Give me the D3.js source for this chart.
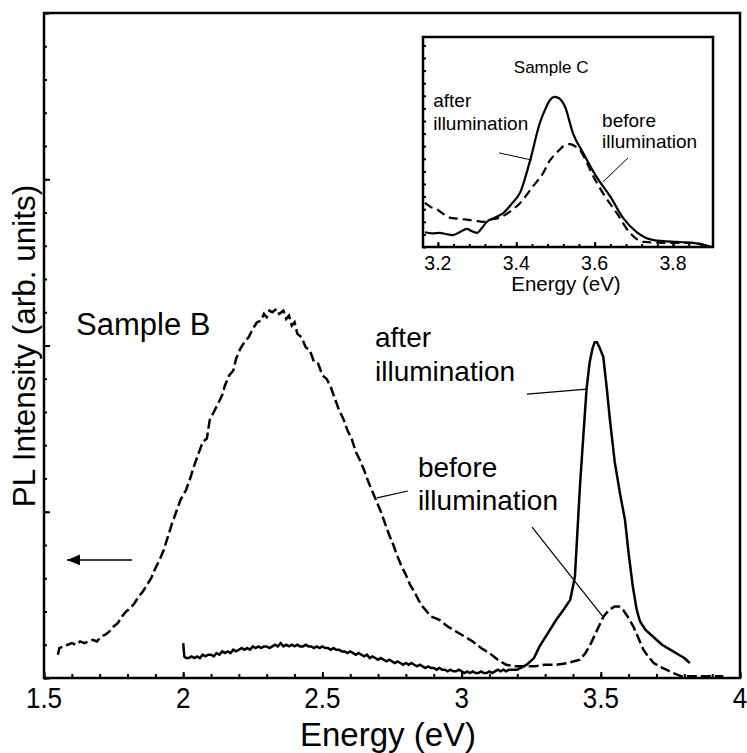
<!DOCTYPE html>
<html>
<head>
<meta charset="utf-8">
<script src="https://cdn.jsdelivr.net/npm/d3@7"></script>
<style>
  body { margin: 0; background: #fff; }
  text { font-family: "Liberation Sans", Arial, sans-serif; fill: #000; }
</style>
</head>
<body>
<div id="chart"></div>
<script>
// ---- main panel: Sample B, [energy eV, PL intensity arb.]
const beforeB = [
  [1.550,0.14],[1.555,0.18],[1.570,0.19],[1.585,0.20],[1.600,0.21],[1.615,0.20],[1.630,0.22],[1.645,0.21],
  [1.660,0.22],[1.675,0.23],[1.690,0.22],[1.705,0.25],[1.720,0.26],[1.735,0.28],[1.750,0.31],[1.765,0.33],
  [1.780,0.37],[1.795,0.40],[1.810,0.42],[1.825,0.45],[1.840,0.49],[1.855,0.52],[1.870,0.56],[1.885,0.60],
  [1.900,0.66],[1.915,0.71],[1.930,0.77],[1.945,0.85],[1.960,0.93],[1.975,1.00],[1.990,1.07],[2.000,1.10],
  [2.010,1.13],[2.025,1.20],[2.040,1.28],[2.055,1.35],[2.070,1.42],[2.085,1.44],[2.095,1.55],[2.110,1.60],
  [2.125,1.65],[2.140,1.70],[2.150,1.76],[2.165,1.82],[2.180,1.85],[2.190,1.92],[2.205,1.98],[2.220,2.02],
  [2.235,2.05],[2.250,2.10],[2.265,2.14],[2.280,2.15],[2.290,2.19],[2.300,2.17],[2.310,2.21],[2.320,2.20],
  [2.335,2.22],[2.345,2.19],[2.360,2.21],[2.370,2.16],[2.380,2.18],[2.390,2.12],[2.400,2.14],[2.410,2.07],
  [2.425,2.05],[2.440,1.99],[2.455,1.97],[2.470,1.90],[2.485,1.89],[2.500,1.82],[2.515,1.80],[2.530,1.75],
  [2.545,1.68],[2.560,1.61],[2.575,1.56],[2.590,1.49],[2.605,1.44],[2.620,1.36],[2.635,1.31],[2.650,1.25],
  [2.665,1.18],[2.680,1.12],[2.695,1.06],[2.710,1.00],[2.725,0.93],[2.740,0.86],[2.755,0.80],[2.770,0.73],
  [2.785,0.67],[2.800,0.62],[2.815,0.56],[2.830,0.52],[2.845,0.47],[2.860,0.43],[2.875,0.40],[2.890,0.37],
  [2.905,0.36],[2.920,0.35],[2.950,0.31],[2.980,0.28],[3.010,0.25],[3.040,0.22],[3.070,0.18],[3.100,0.15],
  [3.130,0.11],[3.160,0.08],[3.190,0.07],[3.220,0.07],[3.260,0.07],[3.300,0.08],[3.340,0.08],[3.380,0.09],
  [3.425,0.11],[3.445,0.15],[3.465,0.21],[3.490,0.30],[3.510,0.37],[3.530,0.41],[3.550,0.43],[3.565,0.43],
  [3.580,0.41],[3.600,0.36],[3.617,0.31],[3.635,0.24],[3.653,0.17],[3.670,0.13],[3.690,0.09],[3.710,0.07],
  [3.735,0.05],[3.760,0.03],[3.790,0.01],[3.850,0.01],[3.900,0.01],[3.940,0.01]
];
const afterB = [
  [2.000,0.21],[2.004,0.13],[2.010,0.12],[2.020,0.12],[2.030,0.13],[2.040,0.12],[2.050,0.13],[2.060,0.12],
  [2.070,0.14],[2.080,0.13],[2.090,0.14],[2.100,0.14],[2.110,0.13],[2.120,0.15],[2.130,0.14],[2.140,0.16],
  [2.150,0.15],[2.160,0.16],[2.170,0.15],[2.180,0.17],[2.190,0.16],[2.200,0.17],[2.210,0.18],[2.220,0.17],
  [2.230,0.18],[2.240,0.17],[2.250,0.19],[2.260,0.18],[2.270,0.19],[2.280,0.18],[2.290,0.19],[2.300,0.19],
  [2.310,0.18],[2.320,0.19],[2.330,0.20],[2.340,0.19],[2.350,0.21],[2.360,0.19],[2.370,0.20],[2.380,0.19],
  [2.390,0.20],[2.400,0.19],[2.410,0.20],[2.420,0.19],[2.430,0.19],[2.440,0.20],[2.450,0.19],[2.460,0.19],
  [2.470,0.18],[2.480,0.19],[2.490,0.18],[2.500,0.19],[2.510,0.18],[2.520,0.18],[2.530,0.17],[2.540,0.18],
  [2.550,0.17],[2.560,0.17],[2.570,0.16],[2.580,0.16],[2.590,0.15],[2.600,0.16],[2.610,0.15],[2.620,0.14],
  [2.630,0.15],[2.640,0.14],[2.650,0.13],[2.660,0.14],[2.670,0.12],[2.680,0.13],[2.690,0.12],[2.700,0.11],
  [2.710,0.12],[2.720,0.11],[2.730,0.10],[2.740,0.11],[2.750,0.10],[2.760,0.09],[2.770,0.10],[2.780,0.09],
  [2.790,0.08],[2.800,0.09],[2.810,0.08],[2.820,0.09],[2.830,0.08],[2.840,0.07],[2.850,0.08],[2.860,0.07],
  [2.870,0.06],[2.880,0.07],[2.890,0.06],[2.900,0.06],[2.910,0.05],[2.920,0.06],[2.930,0.05],[2.940,0.05],
  [2.950,0.04],[2.960,0.05],[2.970,0.04],[2.980,0.04],[2.990,0.05],[3.000,0.04],[3.010,0.03],[3.020,0.04],
  [3.030,0.03],[3.040,0.04],[3.050,0.03],[3.060,0.03],[3.070,0.04],[3.080,0.03],[3.090,0.03],[3.100,0.04],
  [3.110,0.03],[3.120,0.04],[3.130,0.05],[3.140,0.04],[3.150,0.05],[3.160,0.04],[3.170,0.05],[3.180,0.05],
  [3.200,0.05],[3.234,0.08],[3.260,0.12],[3.280,0.19],[3.310,0.27],[3.340,0.35],[3.370,0.42],[3.390,0.47],
  [3.400,0.55],[3.407,0.61],[3.415,0.85],[3.425,1.15],[3.437,1.45],[3.449,1.74],[3.460,1.90],[3.470,1.98],
  [3.478,2.02],[3.486,2.02],[3.495,1.99],[3.509,1.93],[3.521,1.75],[3.533,1.55],[3.550,1.30],[3.570,1.10],
  [3.587,0.95],[3.600,0.75],[3.615,0.55],[3.629,0.41],[3.641,0.34],[3.660,0.29],[3.680,0.26],[3.700,0.23],
  [3.720,0.20],[3.740,0.18],[3.760,0.16],[3.780,0.14],[3.800,0.12],[3.820,0.09]
];
const mainXTicks = [1.5, 2, 2.5, 3, 3.5, 4];
const mainXLabels = ["1.5", "2", "2.5", "3", "3.5", "4"];

// ---- inset: Sample C, [energy eV, normalised intensity]
const beforeC = [
  [3.167,0.21],[3.182,0.19],[3.197,0.18],[3.212,0.16],[3.230,0.14],[3.250,0.135],[3.274,0.13],[3.295,0.125],
  [3.315,0.12],[3.335,0.13],[3.358,0.14],[3.385,0.17],[3.410,0.21],[3.443,0.29],[3.468,0.35],[3.485,0.41],
  [3.504,0.45],[3.520,0.48],[3.537,0.49],[3.550,0.48],[3.563,0.46],[3.578,0.41],[3.593,0.35],[3.620,0.26],
  [3.657,0.16],[3.690,0.067],[3.724,0.024],[3.775,0.02],[3.850,0.02],[3.895,0.0]
];
const afterC = [
  [3.167,0.07],[3.185,0.065],[3.205,0.067],[3.220,0.062],[3.238,0.057],[3.255,0.07],[3.274,0.086],[3.287,0.075],
  [3.300,0.067],[3.312,0.09],[3.325,0.12],[3.345,0.14],[3.366,0.16],[3.390,0.21],[3.410,0.26],[3.435,0.41],
  [3.460,0.59],[3.475,0.66],[3.486,0.70],[3.497,0.715],[3.508,0.71],[3.524,0.67],[3.545,0.54],[3.570,0.45],
  [3.606,0.33],[3.640,0.24],[3.672,0.14],[3.708,0.07],[3.750,0.033],[3.810,0.024],[3.850,0.02],[3.900,0.0]
];
const insetXTicks = [3.2, 3.4, 3.6, 3.8];
const insetXLabels = ["3.2", "3.4", "3.6", "3.8"];

const width = 747, height = 753;
const svg = d3.select("#chart").append("svg")
  .attr("width", width).attr("height", height);

// ---------------- main panel ----------------
const x = d3.scaleLinear().domain([1.5, 4]).range([44, 740]);
const y = d3.scaleLinear().domain([0, 4]).range([678, 13]);

const main = svg.append("g");

// minor / major ticks, pointing inside
main.append("g")
  .attr("transform", `translate(0,${y(0)})`)
  .call(d3.axisBottom(x).tickValues(d3.range(1.5, 4.001, 0.1)).tickSize(-4).tickFormat(""))
  .call(g => g.select(".domain").remove());
main.append("g")
  .attr("transform", `translate(0,${y(0)})`)
  .call(d3.axisBottom(x).tickValues(mainXTicks).tickSize(-6).tickFormat(""))
  .call(g => g.select(".domain").remove());
main.append("g")
  .attr("transform", `translate(${x(1.5)},0)`)
  .call(d3.axisLeft(y).tickValues(d3.range(0, 4.001, 0.2)).tickSize(-3).tickFormat(""))
  .call(g => g.select(".domain").remove());
main.append("g")
  .attr("transform", `translate(${x(1.5)},0)`)
  .call(d3.axisLeft(y).tickValues([0, 1, 2, 3, 4]).tickSize(-6).tickFormat(""))
  .call(g => g.select(".domain").remove());
main.selectAll(".tick line").attr("stroke-width", 2);

// tick labels are a little taller than wide in the original
main.selectAll(".xlbl").data(mainXTicks).join("text")
  .attr("transform", d => `translate(${x(d)},708) scale(1,1.15)`)
  .attr("text-anchor", "middle").attr("font-size", 26)
  .text((d, i) => mainXLabels[i]);

main.append("rect")
  .attr("x", x(1.5)).attr("y", y(4))
  .attr("width", x(4) - x(1.5)).attr("height", y(0) - y(4))
  .attr("fill", "none").attr("stroke", "#000").attr("stroke-width", 2.5);

const line = d3.line().x(d => x(d[0])).y(d => y(d[1]));
main.append("path").datum(beforeB).attr("d", line)
  .attr("fill", "none").attr("stroke", "#000").attr("stroke-width", 2.5)
  .attr("stroke-dasharray", "10,4");
main.append("path").datum(afterB).attr("d", line)
  .attr("fill", "none").attr("stroke", "#000").attr("stroke-width", 2.5);

// annotations in data units
const mainLeaders = [
  [[3.235, 1.708], [3.450, 1.738]],
  [[3.253, 0.908], [3.508, 0.367]],
  [[2.696, 1.083], [2.807, 1.125]]
];
main.selectAll(".leader").data(mainLeaders).join("line")
  .attr("x1", d => x(d[0][0])).attr("y1", d => y(d[0][1]))
  .attr("x2", d => x(d[1][0])).attr("y2", d => y(d[1][1]))
  .attr("stroke", "#000").attr("stroke-width", 1.2);

const mainLabels = [
  { t: "Sample B", e: 1.615, v: 2.063, s: 31 },
  { t: "after", e: 2.689, v: 1.991, s: 28 },
  { t: "illumination", e: 2.689, v: 1.786, s: 28 },
  { t: "before", e: 2.843, v: 1.209, s: 28 },
  { t: "illumination", e: 2.843, v: 1.011, s: 28 }
];
main.selectAll(".lbl").data(mainLabels).join("text")
  .attr("x", d => x(d.e)).attr("y", d => y(d.v))
  .attr("font-size", d => d.s).text(d => d.t);

// arrow pointing to the left axis
svg.append("defs").append("marker")
  .attr("id", "head").attr("viewBox", "0 0 12 10")
  .attr("refX", 12).attr("refY", 5)
  .attr("markerWidth", 13).attr("markerHeight", 11)
  .attr("markerUnits", "userSpaceOnUse").attr("orient", "auto")
  .append("path").attr("d", "M0,0L12,5L0,10Z").attr("fill", "#000");
main.append("line")
  .attr("x1", x(1.816)).attr("y1", y(0.710))
  .attr("x2", x(1.583)).attr("y2", y(0.710))
  .attr("stroke", "#000").attr("stroke-width", 1.5)
  .attr("marker-end", "url(#head)");

main.append("text")
  .attr("x", (x(1.5) + x(4)) / 2 - 4).attr("y", 746)
  .attr("text-anchor", "middle").attr("font-size", 33)
  .text("Energy (eV)");
main.append("text")
  .attr("transform", `translate(35,346) rotate(-90)`)
  .attr("text-anchor", "middle").attr("font-size", 31.5)
  .text("PL Intensity (arb. units)");

// ---------------- inset ----------------
const xi = d3.scaleLinear().domain([3.162, 3.902]).range([423, 713]);
const yi = d3.scaleLinear().domain([0, 1]).range([247, 37]);
const inset = svg.append("g");

inset.append("g")
  .attr("transform", `translate(0,${yi(0)})`)
  .call(d3.axisBottom(xi).tickValues(d3.range(3.2, 3.9, 0.04)).tickSize(-3).tickFormat(""))
  .call(g => g.select(".domain").remove());
inset.append("g")
  .attr("transform", `translate(0,${yi(0)})`)
  .call(d3.axisBottom(xi).tickValues(insetXTicks).tickSize(-5).tickFormat(""))
  .call(g => g.select(".domain").remove());
inset.append("g")
  .attr("transform", `translate(${xi(3.162)},0)`)
  .call(d3.axisLeft(yi).tickValues(d3.range(0, 1.001, 0.06)).tickSize(-3).tickFormat(""))
  .call(g => g.select(".domain").remove());
inset.selectAll(".tick line").attr("stroke-width", 2);

inset.selectAll(".xlbl").data(insetXTicks).join("text")
  .attr("transform", d => `translate(${xi(d)},270) scale(1,1.08)`)
  .attr("text-anchor", "middle").attr("font-size", 19.5)
  .text((d, i) => insetXLabels[i]);

inset.append("rect")
  .attr("x", xi(3.162)).attr("y", yi(1))
  .attr("width", xi(3.902) - xi(3.162)).attr("height", yi(0) - yi(1))
  .attr("fill", "none").attr("stroke", "#000").attr("stroke-width", 2.5);

const lineI = d3.line().curve(d3.curveMonotoneX).x(d => xi(d[0])).y(d => yi(d[1]));
inset.append("path").datum(beforeC).attr("d", lineI)
  .attr("fill", "none").attr("stroke", "#000").attr("stroke-width", 2.2)
  .attr("stroke-dasharray", "9,5");
inset.append("path").datum(afterC).attr("d", lineI)
  .attr("fill", "none").attr("stroke", "#000").attr("stroke-width", 2.2);

const insetLeaders = [
  [[3.356, 0.448], [3.440, 0.414]],
  [[3.621, 0.310], [3.685, 0.424]]
];
inset.selectAll(".leader").data(insetLeaders).join("line")
  .attr("x1", d => xi(d[0][0])).attr("y1", d => yi(d[0][1]))
  .attr("x2", d => xi(d[1][0])).attr("y2", d => yi(d[1][1]))
  .attr("stroke", "#000").attr("stroke-width", 1);

const insetLabels = [
  { t: "Sample C", e: 3.489, v: 0.829, s: 17, a: "middle" },
  { t: "after", e: 3.188, v: 0.667, s: 19, a: "start" },
  { t: "illumination", e: 3.188, v: 0.557, s: 19, a: "start" },
  { t: "before", e: 3.619, v: 0.571, s: 19, a: "start" },
  { t: "illumination", e: 3.619, v: 0.471, s: 19, a: "start" }
];
inset.selectAll(".lbl").data(insetLabels).join("text")
  .attr("x", d => xi(d.e)).attr("y", d => yi(d.v))
  .attr("text-anchor", d => d.a)
  .attr("font-size", d => d.s).text(d => d.t);

inset.append("text")
  .attr("x", 566).attr("y", 291)
  .attr("text-anchor", "middle").attr("font-size", 20.5)
  .text("Energy (eV)");
</script>
</body>
</html>
